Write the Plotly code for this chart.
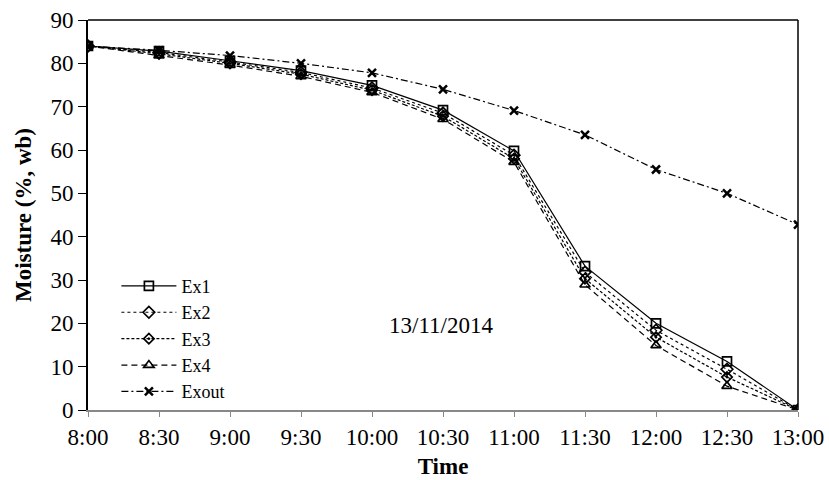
import plotly.graph_objects as go

times = ["8:00", "8:30", "9:00", "9:30", "10:00", "10:30", "11:00", "11:30", "12:00", "12:30", "13:00"]
ex1 = [84.0, 82.8, 80.6, 78.3, 74.9, 69.2, 59.8, 33.2, 20.0, 11.2, 0.0]
ex2 = [84.0, 82.5, 80.3, 77.9, 74.3, 68.5, 58.8, 31.8, 18.4, 9.4, 0.0]
ex3 = [84.0, 82.2, 80.0, 77.5, 73.8, 67.8, 58.0, 30.3, 16.8, 7.6, 0.0]
ex4 = [84.0, 81.8, 79.6, 77.0, 73.3, 67.1, 57.2, 28.9, 14.9, 5.5, 0.0]
exout = [84.0, 83.0, 81.8, 80.0, 77.8, 74.0, 69.1, 63.5, 55.5, 50.0, 42.8]
yticks = [0, 10, 20, 30, 40, 50, 60, 70, 80, 90]

xs = list(range(len(times)))
FONT = "Liberation Serif"
FS = 23

series = [
    ("Ex1", ex1, "solid", "square-open", 9),
    ("Ex2", ex2, "dot", "diamond-open", 9),
    ("Ex3", ex3, "3px,2px", "diamond-open-dot", 8),
    ("Ex4", ex4, "6px,4px", "triangle-up-open", 9),
    ("Exout", exout, "7px,3px,2px,3px", "x-thin-open", 8),
]

fig = go.Figure()
for name, ys, dash, sym, sz in series:
    fig.add_trace(go.Scatter(
        x=xs, y=ys, name=name, mode="lines+markers",
        line=dict(color="black", width=1.2, dash=dash),
        marker=dict(symbol=sym, size=sz, color="black",
                    line=dict(color="black", width=2.5 if sym.startswith("x") else 1.7)),
    ))

fig.add_annotation(x=0.497, y=0.179, xref="paper", yref="paper",
                   text="13/11/2014", showarrow=False,
                   font=dict(family=FONT, size=FS, color="black"))

fig.update_layout(
    width=829, height=480,
    margin=dict(l=88, r=31, t=20, b=70, autoexpand=False),
    paper_bgcolor="white", plot_bgcolor="white",
    font=dict(family=FONT, size=FS, color="black"),
    showlegend=True,
    legend=dict(x=0.04, y=0.365, xanchor="left", yanchor="top",
                bgcolor="rgba(0,0,0,0)", font=dict(family=FONT, size=18),
                itemwidth=55, tracegroupgap=0),
    xaxis=dict(range=[0, len(times) - 1], tickvals=xs, ticktext=times,
               showgrid=False, zeroline=False, automargin=False,
               showline=True, linecolor="#888888", linewidth=2, mirror=False,
               ticks="outside", ticklen=5, tickcolor="#888888", tickwidth=1,
               tickfont=dict(family=FONT, size=FS),
               title=dict(text="<b>Time</b>", font=dict(family=FONT, size=FS), standoff=9)),
    yaxis=dict(range=[0, 90], tickvals=yticks, showgrid=False, zeroline=False, automargin=False,
               showline=True, linecolor="black", linewidth=2, mirror=False,
               ticks="outside", ticklen=8, tickcolor="black", tickwidth=1,
               tickfont=dict(family=FONT, size=FS),
               title=dict(text="<b>Moisture (%, wb)</b>", font=dict(family=FONT, size=FS), standoff=12)),
)

# top and right box lines
fig.add_shape(type="line", xref="paper", yref="paper", x0=0, x1=1, y0=1, y1=1,
              line=dict(color="black", width=1.5))
fig.add_shape(type="line", xref="paper", yref="paper", x0=1, x1=1, y0=0, y1=1,
              line=dict(color="black", width=1.5))

fig.write_html("out.html")
